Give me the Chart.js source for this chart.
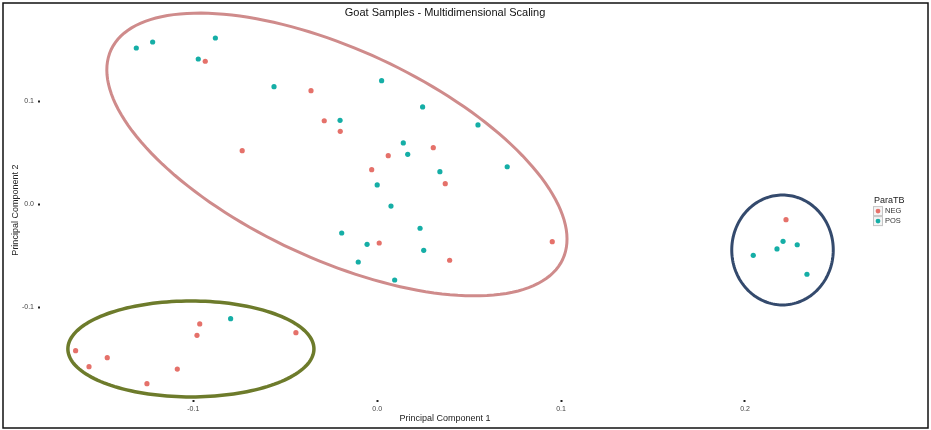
<!DOCTYPE html>
<html>
<head>
<meta charset="utf-8">
<script src="https://cdn.jsdelivr.net/npm/chart.js"></script>
<style>
  body { margin: 0; background: #fff; }
</style>
</head>
<body>
<canvas id="mds" width="931" height="430"></canvas>
<script>
const groups = ["NEG", "POS"];

const negX = [-0.0935, -0.0360, -0.0734, -0.0288, -0.0201, 0.0305, 0.0060, -0.0030, 0.0370, 0.0011, 0.0394, 0.0952,
  -0.0965, -0.0980, -0.0442, -0.1640, -0.1468, -0.1567, -0.1087, -0.1252, 0.2223];
const negY = [0.1390, 0.1104, 0.0521, 0.0812, 0.0709, 0.0550, 0.0472, 0.0336, 0.0200, -0.0376, -0.0544, -0.0363,
  -0.1163, -0.1273, -0.1248, -0.1423, -0.1491, -0.1578, -0.1601, -0.1743, -0.0150];

const posX = [-0.1310, -0.1221, -0.0880, -0.0973, -0.0561, 0.0024, -0.0202, 0.0247, 0.0548, 0.0142, 0.0166, 0.0341,
  0.0707, 0.0000, 0.0075, -0.0193, 0.0233, -0.0055, 0.0253, -0.0103, 0.0095, -0.0797, 0.2207, 0.2174, 0.2284, 0.2045, 0.2337];
const posY = [0.1519, 0.1577, 0.1616, 0.1412, 0.1143, 0.1201, 0.0816, 0.0946, 0.0771, 0.0596, 0.0486, 0.0317,
  0.0365, 0.0188, -0.0017, -0.0279, -0.0233, -0.0389, -0.0447, -0.0561, -0.0736, -0.1112, -0.0360, -0.0434, -0.0393, -0.0496, -0.0680];

const xTicks = [-0.1, 0.0, 0.1, 0.2];
const yTicks = [-0.1, 0.0, 0.1];

// hand drawn cluster rings, data units: centre + two half-axis vectors
const ringCx = [-0.0219, -0.1013, 0.2204];
const ringCy = [0.0484, -0.1406, -0.0444];
const ringU = [[0.1228, -0.1018], [0.0669, 0], [0.0276, 0]];
const ringV = [[-0.0240, -0.0923], [0, 0.0466], [0, 0.0534]];

const pointColors = ['#e5716a', '#15aea6'];
const ringColors = ['#cf8b8b', '#6d7b2b', '#344a6d'];
const ringWidths = [3, 3.5, 3];

Chart.defaults.font.family = "'Liberation Sans', Arial, sans-serif";

const rings = {
  id: 'rings',
  beforeDatasetsDraw(chart) {
    const { ctx, scales: { x, y } } = chart;
    ctx.save();
    ringCx.forEach((cx, i) => {
      ctx.beginPath();
      for (let k = 0; k <= 160; k++) {
        const t = k / 160 * Math.PI * 2;
        const dx = cx + ringU[i][0] * Math.cos(t) + ringV[i][0] * Math.sin(t);
        const dy = ringCy[i] + ringU[i][1] * Math.cos(t) + ringV[i][1] * Math.sin(t);
        const px = x.getPixelForValue(dx), py = y.getPixelForValue(dy);
        if (k) ctx.lineTo(px, py); else ctx.moveTo(px, py);
      }
      ctx.closePath();
      ctx.strokeStyle = ringColors[i];
      ctx.lineWidth = ringWidths[i];
      ctx.stroke();
    });
    ctx.restore();
  }
};

// ggplot style legend on the right + the outer frame
const sideLegend = {
  id: 'sideLegend',
  afterDraw(chart) {
    const { ctx, chartArea } = chart;
    const lx = chartArea.right + 24;
    const midY = (chartArea.top + chartArea.bottom) / 2;
    ctx.save();
    ctx.textBaseline = 'middle';
    ctx.textAlign = 'left';
    ctx.fillStyle = '#222';
    ctx.font = "9px 'Liberation Sans', Arial, sans-serif";
    ctx.fillText('ParaTB', lx, midY - 10);
    groups.forEach((g, i) => {
      const cy = midY + 1 + i * 10;
      ctx.fillStyle = '#f4f4f4';
      ctx.fillRect(lx - 0.5, cy - 4.5, 9, 9);
      ctx.strokeStyle = '#c4c4c4';
      ctx.lineWidth = 1;
      ctx.strokeRect(lx - 0.5, cy - 4.5, 9, 9);
      ctx.beginPath();
      ctx.arc(lx + 4, cy, 2.4, 0, Math.PI * 2);
      ctx.fillStyle = pointColors[i];
      ctx.fill();
      ctx.fillStyle = '#333';
      ctx.font = "7.5px 'Liberation Sans', Arial, sans-serif";
      ctx.fillText(g, lx + 11, cy);
    });
    ctx.strokeStyle = '#111';
    ctx.lineWidth = 1.5;
    ctx.strokeRect(3, 3, chart.width - 6, chart.height - 5);
    ctx.restore();
  }
};

new Chart(document.getElementById('mds'), {
  type: 'scatter',
  data: {
    datasets: [
      {
        label: groups[0],
        data: negX.map((v, i) => ({ x: v, y: negY[i] })),
        backgroundColor: pointColors[0],
        borderWidth: 0,
        pointRadius: 2.6
      },
      {
        label: groups[1],
        data: posX.map((v, i) => ({ x: v, y: posY[i] })),
        backgroundColor: pointColors[1],
        borderWidth: 0,
        pointRadius: 2.6
      }
    ]
  },
  options: {
    responsive: false,
    animation: false,
    layout: { padding: { right: 81 } },
    plugins: {
      legend: { display: false },
      tooltip: { enabled: false },
      title: {
        display: true,
        text: 'Goat Samples - Multidimensional Scaling',
        fullSize: false,
        color: '#111',
        font: { size: 11, weight: 'normal' },
        padding: { top: 6, bottom: 1 }
      }
    },
    scales: {
      x: {
        type: 'linear',
        min: -0.18336,
        max: 0.2571,
        afterBuildTicks: s => { s.ticks = xTicks.map(v => ({ value: v })); },
        afterFit: s => { s.height = 30; },
        border: { display: false },
        grid: { drawOnChartArea: false, tickLength: 2, tickWidth: 2, tickColor: '#222' },
        ticks: { padding: 3, color: '#444', maxRotation: 0, font: { size: 7 }, callback: v => v.toFixed(1) },
        title: { display: true, text: 'Principal Component 1', color: '#222', font: { size: 9 }, padding: { top: 0, bottom: 5.6 } }
      },
      y: {
        type: 'linear',
        min: -0.1902,
        max: 0.1789,
        afterBuildTicks: s => { s.ticks = yTicks.map(v => ({ value: v })); },
        afterFit: s => { s.width = 40; },
        border: { display: false },
        grid: { drawOnChartArea: false, tickLength: 2, tickWidth: 2, tickColor: '#222' },
        ticks: { padding: 4, color: '#444', font: { size: 7 }, callback: v => v.toFixed(1) },
        title: { display: true, text: 'Principal Component 2', color: '#222', font: { size: 9 }, padding: { top: 10.6, bottom: 0 } }
      }
    }
  },
  plugins: [rings, sideLegend]
});
</script>
</body>
</html>
